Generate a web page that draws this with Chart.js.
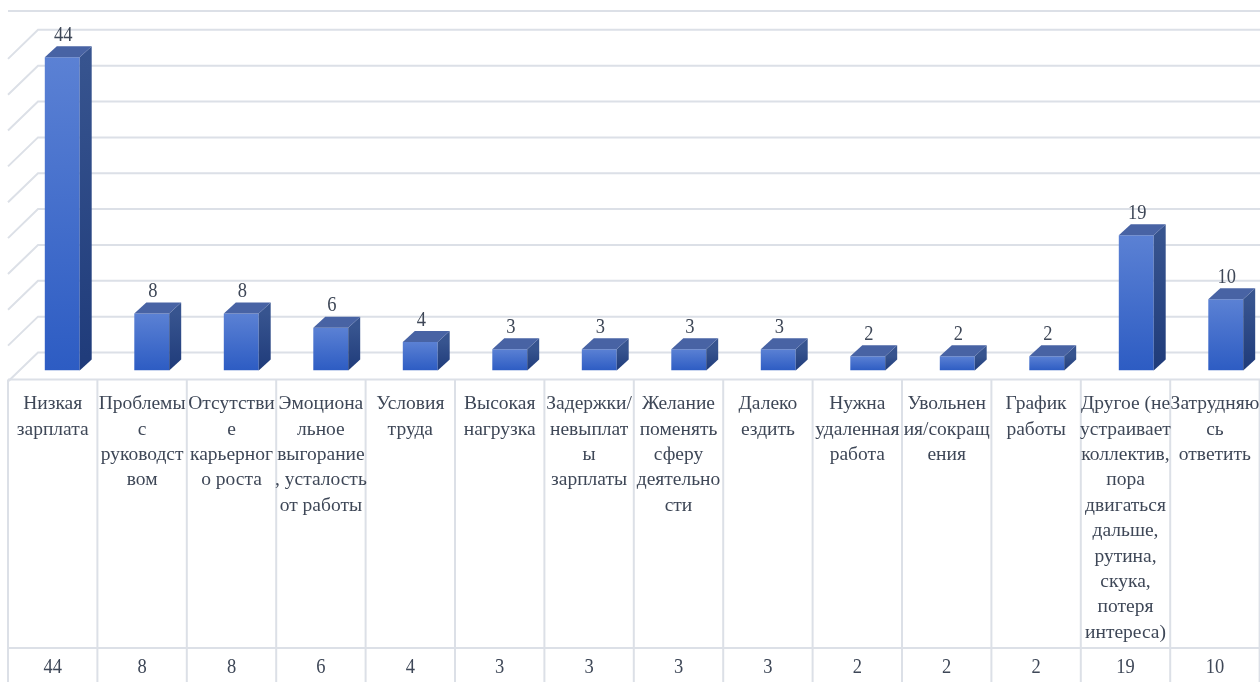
<!DOCTYPE html>
<html>
<head>
<meta charset="utf-8">
<script src="https://cdn.jsdelivr.net/npm/chart.js@4/dist/chart.umd.min.js"></script>
<style>
  html, body { margin: 0; padding: 0; background: #fff; overflow: hidden; }
  #wrap { width: 1260px; height: 682px; overflow: hidden; }
</style>
</head>
<body>
<div id="wrap"><canvas id="chart" width="1272" height="682"></canvas></div>
<script>
const categories = [
  "Низкая зарплата", "Проблемы с руководством", "Отсутствие карьерного роста",
  "Эмоциональное выгорание, усталость от работы", "Условия труда", "Высокая нагрузка",
  "Задержки/невыплаты зарплаты", "Желание поменять сферу деятельности", "Далеко ездить",
  "Нужна удаленная работа", "Увольнения/сокращения", "График работы",
  "Другое (не устраивает коллектив, пора двигаться дальше, рутина, скука, потеря интереса)",
  "Затрудняюсь ответить"
];
// wrapped tick labels as they appear in the table
const categoryLines = [
  ["Низкая", "зарплата"],
  ["Проблемы", "с", "руководст", "вом"],
  ["Отсутстви", "е", "карьерног", "о роста"],
  ["Эмоциона", "льное", "выгорание", ", усталость", "от работы"],
  ["Условия", "труда"],
  ["Высокая", "нагрузка"],
  ["Задержки/", "невыплат", "ы", "зарплаты"],
  ["Желание", "поменять", "сферу", "деятельно", "сти"],
  ["Далеко", "ездить"],
  ["Нужна", "удаленная", "работа"],
  ["Увольнен", "ия/сокращ", "ения"],
  ["График", "работы"],
  ["Другое (не", "устраивает", "коллектив,", "пора", "двигаться", "дальше,", "рутина,", "скука,", "потеря", "интереса)"],
  ["Затрудняю", "сь", "ответить"]
];
const values = [44, 8, 8, 6, 4, 3, 3, 3, 3, 2, 2, 2, 19, 10];
const gridValues = [0, 5, 10, 15, 20, 25, 30, 35, 40, 45];

const FONT = "'Liberation Serif', 'Times New Roman', serif";
const TEXT = '#3E4757';
const LINE = '#DCE0E7';
const tableLeft = 8, colW = 89.4, tableTop = 379.5, valueRowTop = 648;
const depthX = 12, depthY = 11;   // bar depth
const wallX = 30, wallY = 29;     // floor depth

// numbers in the source look slightly condensed
function drawNumber(ctx, s, x, y) {
  ctx.save();
  ctx.translate(x, y);
  ctx.scale(0.88, 1);
  ctx.fillText(s, 0, 0);
  ctx.restore();
}

const threeD = {
  id: 'threeD',
  beforeDatasetsDraw(chart) {
    const ctx = chart.ctx, y = chart.scales.y;
    const right = chart.width;
    ctx.save();
    ctx.strokeStyle = LINE;
    ctx.lineWidth = 2;
    ctx.beginPath();
    ctx.moveTo(tableLeft, 11);
    ctx.lineTo(right, 11);
    ctx.stroke();
    // back wall gridlines + side wall diagonals
    gridValues.forEach(v => {
      const py = y.getPixelForValue(v) - (18 + v * 0.05);
      ctx.beginPath();
      ctx.moveTo(tableLeft, py + wallY);
      ctx.lineTo(tableLeft + wallX, py);
      ctx.lineTo(right, py);
      ctx.stroke();
    });
    ctx.restore();
  },
  afterDatasetsDraw(chart) {
    const ctx = chart.ctx;
    const meta = chart.getDatasetMeta(0);
    ctx.save();
    meta.data.forEach((bar, i) => {
      const l = bar.x - bar.width / 2, r = bar.x + bar.width / 2;
      const t = bar.y, b = bar.base;
      const g = ctx.createLinearGradient(0, t, 0, b);
      g.addColorStop(0, '#37548F');
      g.addColorStop(1, '#1F3B7A');
      ctx.fillStyle = g;
      ctx.beginPath();
      ctx.moveTo(r, t);
      ctx.lineTo(r + depthX, t - depthY);
      ctx.lineTo(r + depthX, b - depthY);
      ctx.lineTo(r, b);
      ctx.closePath();
      ctx.fill();
      ctx.fillStyle = '#4863A4';
      ctx.beginPath();
      ctx.moveTo(l, t);
      ctx.lineTo(r, t);
      ctx.lineTo(r + depthX, t - depthY);
      ctx.lineTo(l + depthX, t - depthY);
      ctx.closePath();
      ctx.fill();
      ctx.fillStyle = TEXT;
      ctx.font = '21px ' + FONT;
      ctx.textAlign = 'center';
      ctx.textBaseline = 'middle';
      drawNumber(ctx, String(values[i]), bar.x + 1, t - 22);
    });
    ctx.restore();
  },
  afterDraw(chart) {
    const ctx = chart.ctx;
    ctx.save();
    ctx.strokeStyle = LINE;
    ctx.lineWidth = 2;
    ctx.beginPath();
    ctx.moveTo(tableLeft, tableTop);
    ctx.lineTo(chart.width, tableTop);
    ctx.moveTo(tableLeft, valueRowTop);
    ctx.lineTo(chart.width, valueRowTop);
    for (let i = 0; i <= categories.length; i++) {
      const x = tableLeft + i * colW;
      ctx.moveTo(x, tableTop);
      ctx.lineTo(x, chart.height);
    }
    ctx.stroke();

    ctx.fillStyle = TEXT;
    ctx.textAlign = 'center';
    ctx.textBaseline = 'middle';
    ctx.font = '19.5px ' + FONT;
    categoryLines.forEach((lines, i) => {
      const cx = tableLeft + (i + 0.5) * colW;
      lines.forEach((s, k) => ctx.fillText(s, cx, 404 + k * 25.4));
    });
    ctx.font = '21px ' + FONT;
    values.forEach((v, i) => {
      drawNumber(ctx, String(v), tableLeft + (i + 0.5) * colW, 667);
    });
    ctx.restore();
  }
};

new Chart(document.getElementById('chart'), {
  type: 'bar',
  data: {
    labels: categories,
    datasets: [{
      data: values,
      backgroundColor: (c) => {
        const chart = c.chart;
        const y = chart.scales && chart.scales.y;
        if (!chart.chartArea || !y || c.parsed == null) return '#4470CC';
        const top = y.getPixelForValue(c.parsed.y);
        const bottom = y.getPixelForValue(0);
        const g = chart.ctx.createLinearGradient(0, top, 0, bottom);
        g.addColorStop(0, '#5B81D4');
        g.addColorStop(1, '#2D5CC3');
        return g;
      },
      borderWidth: 0,
      barPercentage: 0.39,
      categoryPercentage: 1
    }]
  },
  options: {
    responsive: false,
    animation: false,
    layout: { padding: { left: 17.5, right: 1.5, top: 14.5, bottom: 311.5 } },
    plugins: { legend: { display: false }, tooltip: { enabled: false } },
    scales: {
      x: { display: false },
      y: { display: false, min: 0, max: 50 }
    }
  },
  plugins: [threeD]
});
</script>
</body>
</html>
